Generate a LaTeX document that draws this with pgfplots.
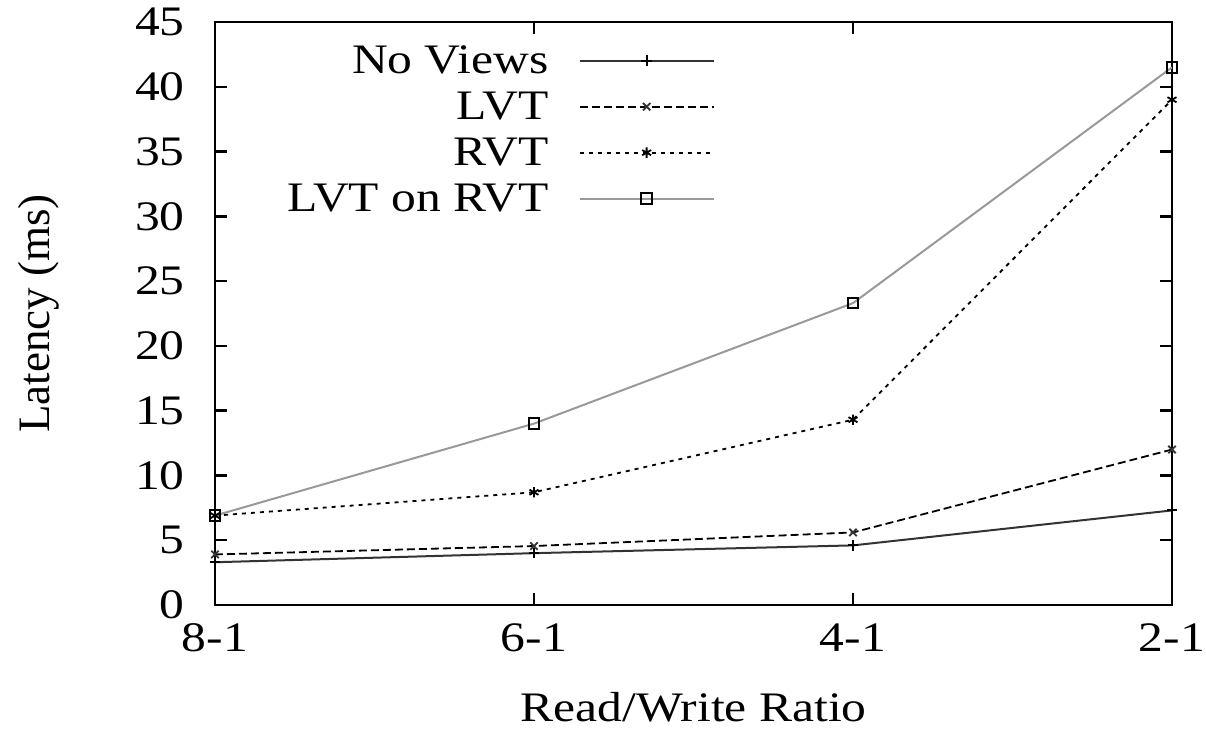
\documentclass[border=0pt]{standalone}
\usepackage{pgfplots}
\pgfplotsset{compat=1.18}
\usepackage{fontspec}
\setmainfont{Liberation Serif}[FakeStretch=1.18]
\newfontfamily\plainserif{Liberation Serif}
\begin{document}
\fontsize{21}{25}\selectfont
\begin{tikzpicture}
\begin{axis}[name=ax,
  scale only axis, width=478.5pt, height=291.5pt,
  xmin=0, xmax=3, ymin=0, ymax=45,
  xtick={0,1,2,3}, xticklabels={8-1,6-1,4-1,2-1},
  ytick={0,5,...,45},
  tick align=inside, major tick length=6pt,
  axis line style={line width=1.2pt}, every tick/.style={line width=1.2pt, black},
  /pgf/number format/assume math mode=true,
  tick label style={font=\fontsize{21}{25}\selectfont, inner sep=0pt},
  yticklabel style={xshift=-15pt},
  xticklabel style={yshift=-9pt},
  xlabel={Read/Write Ratio}, ylabel={Latency (ms)},
  xlabel style={at={(axis description cs:0.5,-0.176)}, anchor=center, inner sep=0pt},
  ylabel style={at={(axis description cs:-0.184,0.5)}, anchor=center, inner sep=0pt, font=\plainserif\fontsize{22.5}{26}\selectfont},
  legend plot pos=right, legend cell align=right,
  legend style={at={(0.5225,0.967)}, anchor=north east, draw=none, fill=none, inner sep=0pt,
    font=\fontsize{21}{25}\selectfont, row sep=4pt,
    nodes={inner sep=1pt, text height=15pt, text depth=2pt}},
  legend image code/.code={\path (0pt,0pt); \draw[mark repeat=2,mark phase=2] plot coordinates {(14pt,0pt)(47.5pt,0pt)(81pt,0pt)};},
]
\addplot[black!80, line width=1pt, mark=+, mark options={solid,black,scale=1.3}] coordinates {(0,3.3)(1,4.0)(2,4.6)(3,7.3)};
\addlegendentry{No Views}
\addplot[black, line width=0.9pt, dash pattern=on 4pt off 2pt, mark=x, mark options={solid,black!80,scale=1.3}] coordinates {(0,3.9)(1,4.55)(2,5.6)(3,12.0)};
\addlegendentry{LVT}
\addplot[black, line width=0.9pt, dash pattern=on 2pt off 2.5pt, mark=asterisk, mark options={solid,black,scale=1.3}] coordinates {(0,6.9)(1,8.7)(2,14.3)(3,39.0)};
\addlegendentry{RVT}
\addplot[black!40, line width=1pt, mark=square, mark options={solid,black,line width=1pt,scale=1.3}] coordinates {(0,6.9)(1,14.0)(2,23.3)(3,41.5)};
\addlegendentry{LVT on RVT}
\end{axis}
\path (ax.south west) ++(-107.5pt,-62pt) coordinate (bl);
\path (ax.north east) ++(17pt,11pt) coordinate (tr);
\path (bl) rectangle (tr);
\end{tikzpicture}
\end{document}
